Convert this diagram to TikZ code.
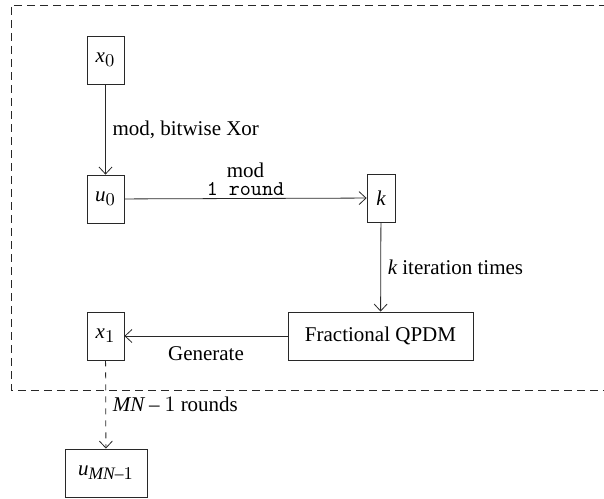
\documentclass[tikz,border=0pt]{standalone}
\usepackage{fontspec}
\setmainfont{Liberation Serif}
\usepackage{amsmath}
\usepackage[italic]{mathastext}
\usetikzlibrary{arrows.meta}
\usetikzlibrary{positioning}
\definecolor{lineGray}{RGB}{40,40,40}

\tikzset{
  valbox/.style={draw=lineGray, minimum height=24pt, inner sep=2pt},
  flow/.style={-{Straight Barb[length=3.5pt,width=6.5pt]}, draw=lineGray},
  lbl/.style={font=\fontsize{10.5}{9}\selectfont, text=black}
}

\begin{document}
\begin{tikzpicture}[x=0.5pt, y=-0.5pt, every node/.style={font=\fontsize{10.5}{12}\selectfont}]
      \useasboundingbox (0,0) rectangle (604,498);
      \draw[lineGray, dash pattern=on 4pt off 2.5pt] (620,5) -- (11,5) -- (11,390) -- (620,390);
      \node[valbox, minimum width=18.5pt] (x0) at (105.5, 60)  {$x_0$};
      \node[valbox, minimum width=18.5pt] (u0) at (105.5,199)  {$u_0$};
      \node[valbox, minimum width=14pt]   (k)  at (381,  198)  {$k$};
      \node[valbox, minimum width=92.5pt] (fq) at (380.5,336)  {Fractional QPDM};
      \node[valbox, minimum width=18.5pt] (x1) at (105.5,336)  {$x_1$};
      \node[valbox, minimum width=41pt]   (um) at (106,  473)  {$u_{MN-1}$};
      \draw[flow] (x0) -- node[lbl, right] {mod, bitwise Xor} (u0);
      \draw[flow] (u0) -- node[lbl, above, align=center, inner sep=1pt] {mod\\\texttt{1 round}} (k);
      \draw[flow] (k)  -- node[lbl, right] {$k$ iteration times} (fq);
      \draw[flow] (fq) -- node[lbl, below, inner sep=5pt] {Generate} (x1);
      \draw[flow, dashed] (x1) -- node[lbl, right] {$MN-1$ rounds} (um);
\end{tikzpicture}
\end{document}
